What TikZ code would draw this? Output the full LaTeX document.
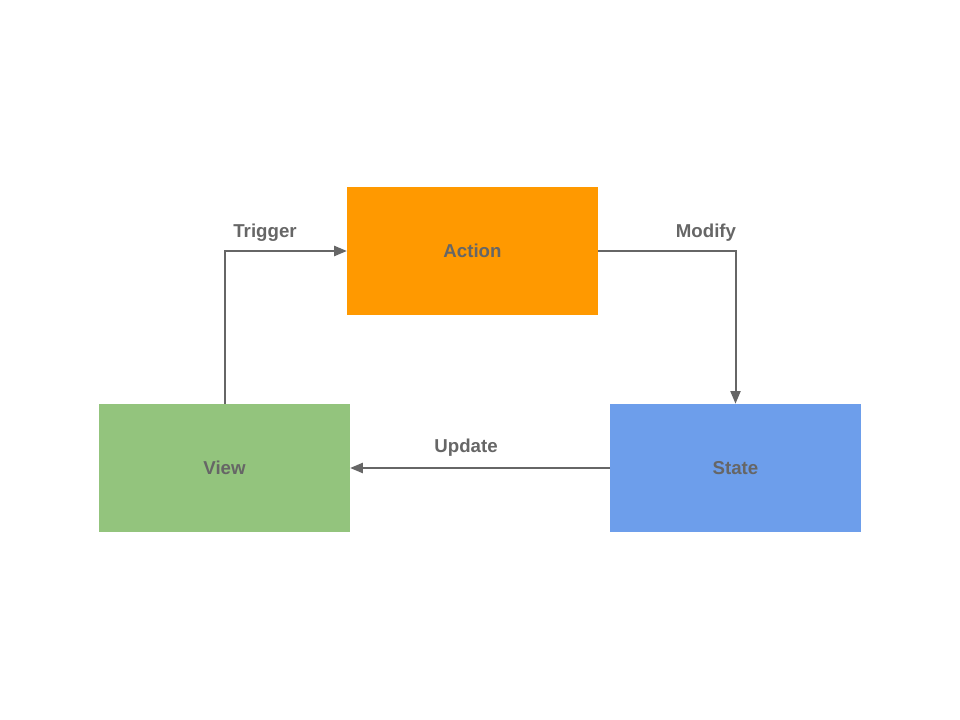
\documentclass[tikz,border=0pt]{standalone}
\usepackage{fontspec}
\setmainfont{Liberation Sans}
\usetikzlibrary{arrows.meta}
\definecolor{txtgray}{HTML}{666666}
\definecolor{actionorange}{HTML}{FF9900}
\definecolor{viewgreen}{HTML}{93C47D}
\definecolor{stateblue}{HTML}{6D9EEB}
\tikzset{box/.style={
        minimum width=188pt,
        minimum height=96pt,
        inner sep=0pt,
        text=txtgray,
        font=\fontsize{14}{16}\selectfont\bfseries
    },
    flow/.style={
        draw=txtgray,
        line width=1.5pt,
        -{Triangle[length=9.5pt,width=7.5pt]}
    },
    flowlabel/.style={
        text=txtgray,
        font=\fontsize{14}{16}\selectfont\bfseries
    }
}

\begin{document}
\begin{tikzpicture}[x=0.75pt, y=-0.75pt]
        \useasboundingbox (0,0) rectangle (960,720);
        % boxes
        \node[box, fill=actionorange] (action) at (472.5,251) {Action};
        \node[box, fill=viewgreen] (view) at (224.5,468) {View};
        \node[box, fill=stateblue] (state) at (735.5,468) {State};
        % connectors
        \draw[flow] (view.north) |- (action.west);
        \draw[flow] (action.east) -| (state.north);
        \draw[flow] (state.west) -- (view.east);
        % labels
        \node[flowlabel] (trigger) at (265,233) {Trigger};
        \node[flowlabel] (modify) at (706,233) {Modify};
        \node[flowlabel] (update) at (466,448) {Update};
    \end{tikzpicture}
\end{document}
